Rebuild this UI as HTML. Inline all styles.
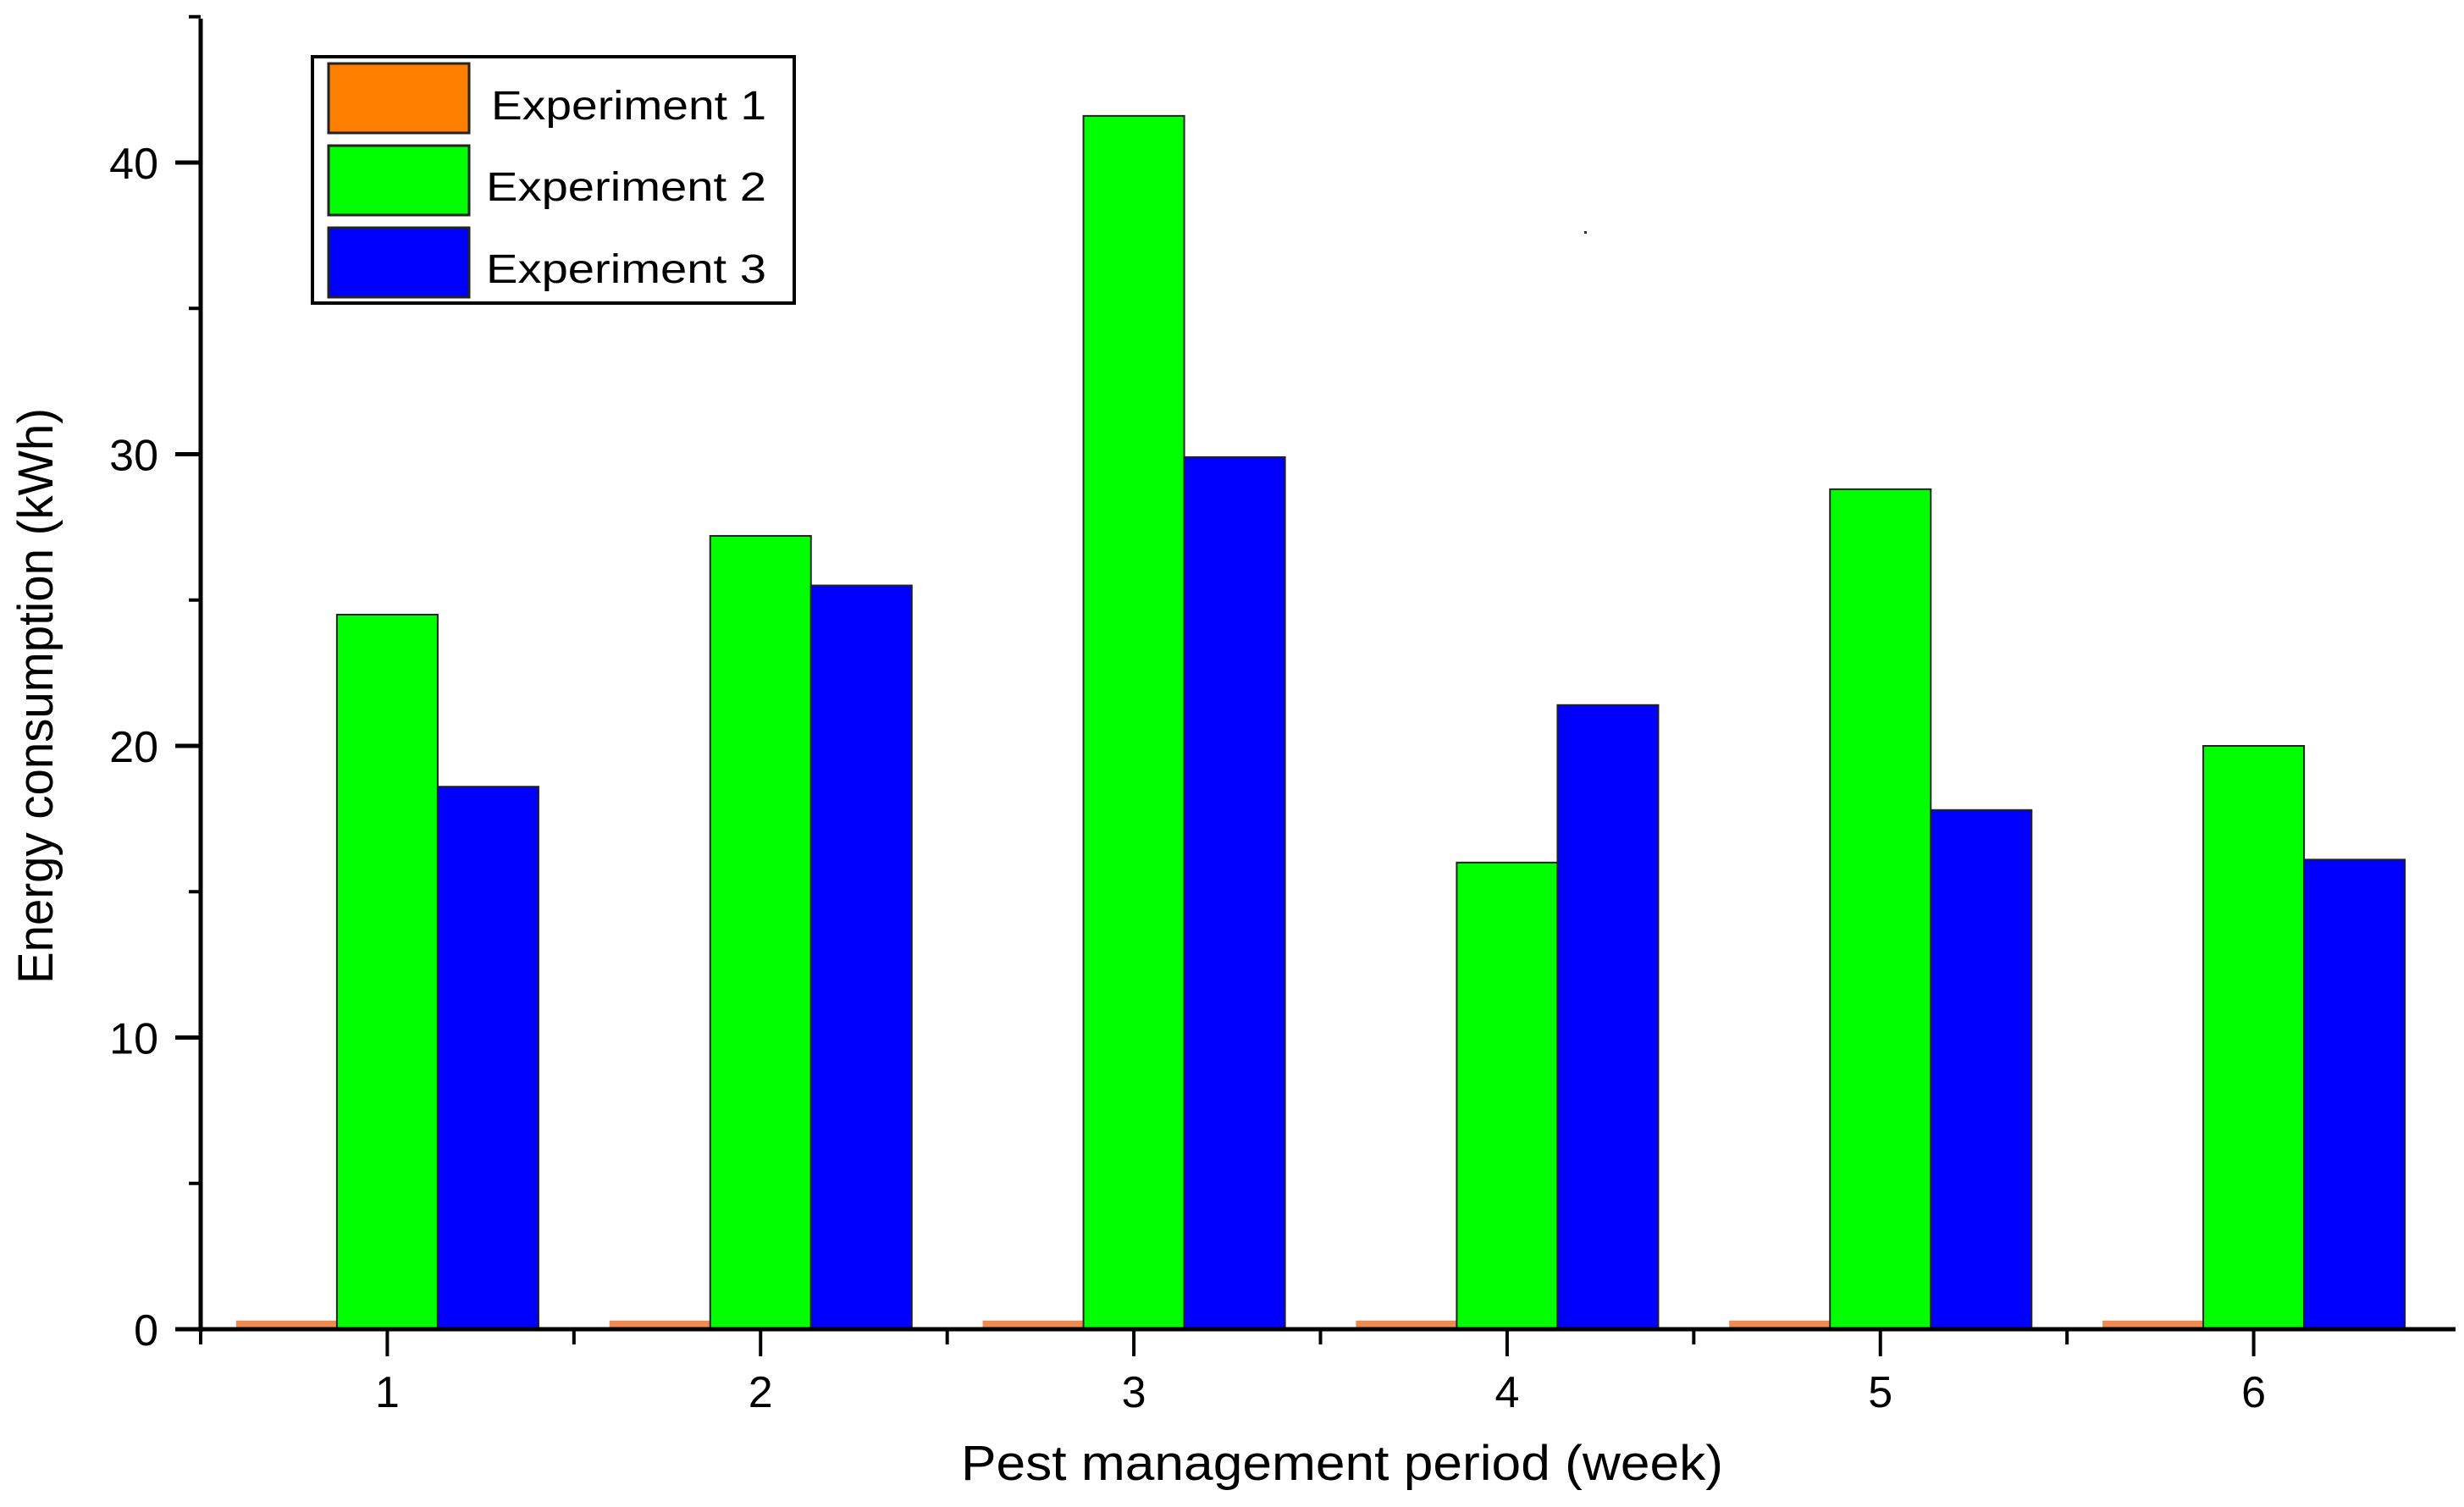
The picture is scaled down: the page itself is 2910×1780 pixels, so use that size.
<!DOCTYPE html>
<html><head><meta charset="utf-8"><style>
html,body{margin:0;padding:0;background:#fff;}
svg{display:block;font-family:"Liberation Sans",Arial,sans-serif;}
</style></head><body>
<svg id="chart" width="2910" height="1780" viewBox="0 0 2910 1780" xmlns="http://www.w3.org/2000/svg">
<g id="bars"></g>
<g id="axes"></g>
<g id="legend">
 <rect x="369" y="67" width="569" height="291" fill="#fff" stroke="#000" stroke-width="4"/>
 <rect x="388" y="75" width="166" height="82" fill="#ff7f00" stroke="#222" stroke-width="3"/>
 <rect x="388" y="172" width="166" height="82" fill="#00ff00" stroke="#222" stroke-width="3"/>
 <rect x="388" y="269" width="166" height="82" fill="#0000ff" stroke="#222" stroke-width="3"/>
 <text x="580" y="141" font-size="48" textLength="325" lengthAdjust="spacingAndGlyphs">Experiment 1</text>
 <text x="574" y="237" font-size="48" textLength="331" lengthAdjust="spacingAndGlyphs">Experiment 2</text>
 <text x="574" y="334" font-size="48" textLength="331" lengthAdjust="spacingAndGlyphs">Experiment 3</text>
</g>
<rect x="1871" y="273" width="3" height="3" fill="#333"/>
<text x="1585" y="1748" font-size="58" text-anchor="middle" textLength="900" lengthAdjust="spacingAndGlyphs">Pest management period (week)</text>
<text transform="translate(62,822) rotate(-90)" font-size="58" text-anchor="middle" textLength="680" lengthAdjust="spacingAndGlyphs">Energy consumption (kWh)</text>
</svg>
<script>
const categories = ["1","2","3","4","5","6"];
const exp1 = [0.15,0.15,0.15,0.15,0.15,0.15];
const exp2 = [24.5,27.2,41.6,16.0,28.8,20.0];
const exp3 = [18.6,25.5,29.9,21.4,17.8,16.1];
const yTicks = [0,10,20,30,40];
const yMinor = [5,15,25,35,45];
const NS="http://www.w3.org/2000/svg";
const X0=237, X1=2882, Y0=1570, PX=34.45;
const step=(X1-X0)/categories.length;
function xs(i){return X0+step*(i+0.5);}
function ys(v){return Y0-v*PX;}
const bw=step*0.27;
function mk(tag,attrs,parent){const e=document.createElementNS(NS,tag);for(const k in attrs)e.setAttribute(k,attrs[k]);parent.appendChild(e);return e;}
const bars=document.getElementById('bars');
const series=[[exp1,"#f08a50","experiment-1",-1.5],[exp2,"#00ff00","experiment-2",-0.5],[exp3,"#0000ff","experiment-3",0.5]];
series.forEach(s=>{
  s[0].forEach((v,i)=>{
    const x=xs(i)+s[3]*bw;
    const h=Math.max(ys(0)-ys(v),0);
    const r=mk('rect',{x:x,y:ys(v)-(s[2]==="experiment-1"?5:0),width:bw,height:h+(s[2]==="experiment-1"?5:0),fill:s[1],stroke:s[2]==="experiment-1"?"none":"#222","stroke-width":2},bars);
    
    
  });
});
const ax=document.getElementById('axes');
let l=mk('line',{x1:X0,y1:22,x2:X0,y2:Y0+3,stroke:"#000","stroke-width":5},ax);


l=mk('line',{x1:X0-5,y1:Y0,x2:2900,y2:Y0,stroke:"#000","stroke-width":5},ax);


yTicks.forEach(v=>{
  const t=mk('line',{x1:X0-30,y1:ys(v),x2:X0,y2:ys(v),stroke:"#000","stroke-width":5},ax);
  
  
  const tx=mk('text',{x:X0-50,y:ys(v)+19,"font-size":52,"text-anchor":"end"},ax);
  tx.textContent=v;
  
  
});
yMinor.forEach(v=>{
  const t=mk('line',{x1:X0-14,y1:ys(v),x2:X0,y2:ys(v),stroke:"#000","stroke-width":4},ax);
  
  
});
categories.forEach((c,i)=>{
  const t=mk('line',{x1:xs(i),y1:Y0,x2:xs(i),y2:Y0+32,stroke:"#000","stroke-width":4},ax);
  
  
  const tx=mk('text',{x:xs(i),y:Y0+92,"font-size":52,"text-anchor":"middle"},ax);
  tx.textContent=c;
  
  
  const m=mk('line',{x1:X0+step*i,y1:Y0,x2:X0+step*i,y2:Y0+18,stroke:"#000","stroke-width":4},ax);
  
  
});
</script>
</body></html>
